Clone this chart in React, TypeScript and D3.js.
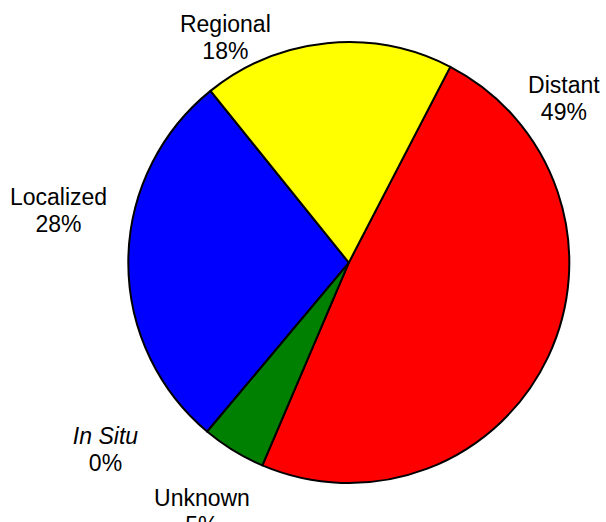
import * as d3 from "d3";

// slice order runs clockwise from the Distant/Regional boundary
const CATEGORIES = ["Distant", "Unknown", "In Situ", "Localized", "Regional"];
const PERCENTS = [48.8, 4.7, 0, 28.1, 18.4];
const COLORS = ["#ff0000", "#008000", "#ff00ff", "#0000ff", "#ffff00"];
const ITALIC = [false, false, true, false, false];

// label anchors around the pie, as [angle in degrees clockwise from 12 o'clock, distance in px]
const LABEL_POLAR: [number, number][] = [
  [51.8, 273.7],
  [211.1, 284.3],
  [233.3, 303.5],
  [281.2, 295.9],
  [331.8, 261.2],
];

const W = 606;
const H = 522;
const CX = 348.8;
const CY = 262.6;
const R = 220.5;
const START = (27.4 * Math.PI) / 180;
const FONT = "'Liberation Sans', Arial, Helvetica, sans-serif";

export default function App() {
  const rows = CATEGORIES.map((name, i) => ({ name, value: PERCENTS[i], i }));
  const pie = d3
    .pie<{ name: string; value: number; i: number }>()
    .sort(null)
    .value((d) => d.value)
    .startAngle(START)
    .endAngle(START + 2 * Math.PI);
  const arcs = pie(rows);
  const arc = d3
    .arc<d3.PieArcDatum<{ name: string; value: number; i: number }>>()
    .innerRadius(0)
    .outerRadius(R);

  return (
    <svg
      width={W}
      height={H}
      style={{ position: "absolute", left: 0, top: 0, display: "block", background: "#fff" }}
    >
      <g transform={`translate(${CX},${CY})`}>
        {arcs
          .filter((a) => a.data.value > 0)
          .map((a) => (
            <path
              key={a.data.name}
              d={arc(a) ?? ""}
              fill={COLORS[a.data.i]}
              stroke="#000"
              strokeWidth={2}
              strokeLinejoin="round"
            />
          ))}
        {arcs.map((a) => {
          const [deg, dist] = LABEL_POLAR[a.data.i];
          const [x, y] = d3.pointRadial((deg * Math.PI) / 180, dist);
          return (
            <text
              key={"l" + a.data.name}
              x={x}
              y={y}
              textAnchor="middle"
              fontFamily={FONT}
              fontSize={23}
              fill="#000"
            >
              <tspan x={x} fontStyle={ITALIC[a.data.i] ? "italic" : "normal"}>
                {a.data.name}
              </tspan>
              <tspan x={x} dy={27}>
                {`${Math.round(a.data.value)}%`}
              </tspan>
            </text>
          );
        })}
      </g>
    </svg>
  );
}
